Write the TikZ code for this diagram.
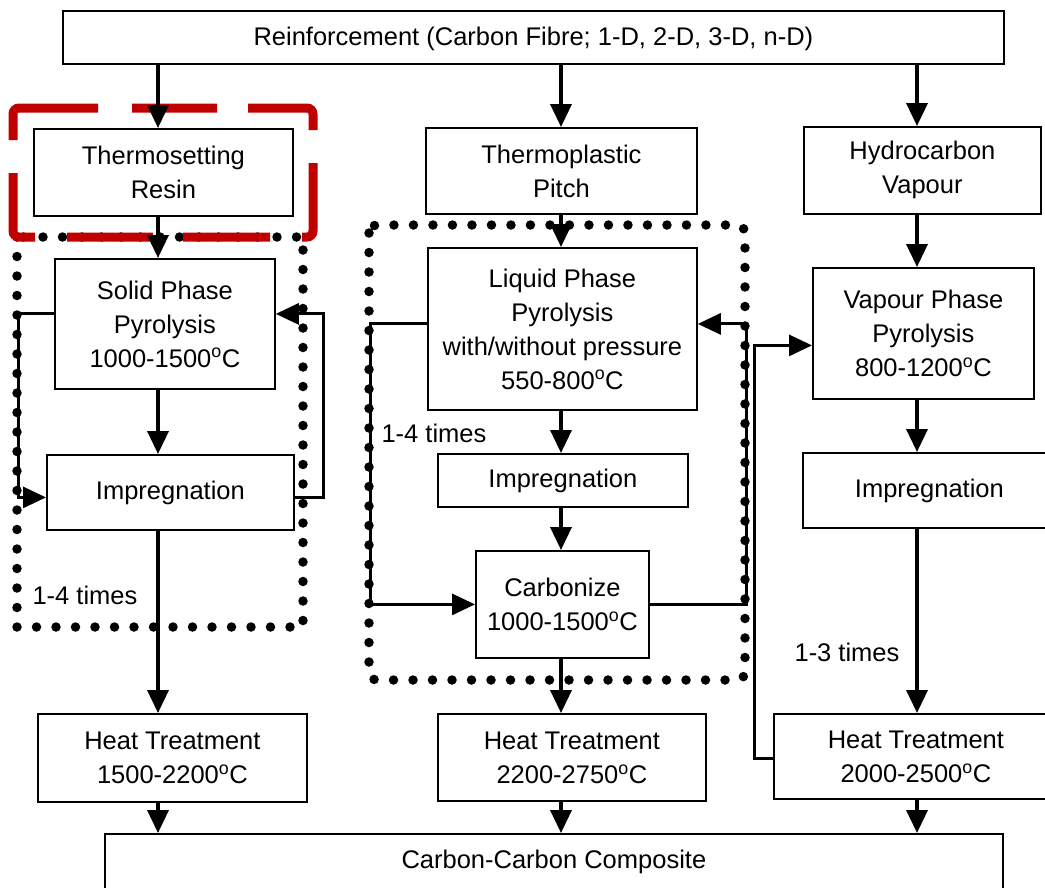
\documentclass[tikz,border=0pt]{standalone}
\usepackage{fontspec}
\setmainfont{Liberation Sans}
\usepackage{xcolor}
\usepackage{tikz}
\usetikzlibrary{arrows.meta,positioning,calc}
\definecolor{markred}{HTML}{C00000}
\newcommand{\dgC}{\textsuperscript{o}C}

\begin{document}
\begin{tikzpicture}[x=1pt,y=-1pt,font=\fontsize{25.5}{34}\selectfont,
  box/.style={draw,line width=1.8pt,align=center,inner sep=0pt,anchor=north west},
  flow/.style={-{Triangle[length=23pt,width=21pt]},line width=3.6pt},
  back/.style={-{Triangle[length=23pt,width=21pt]},line width=3pt},
  dots/.style={line width=9.5pt,line cap=round,dash pattern=on 0pt off 19.5pt},
  redmark/.style={markred,line width=9pt,rounded corners=6pt}]
  \useasboundingbox (0,0) rectangle (1045,887);
  % dotted loops and red mark
  \draw[dots] (17,237) rectangle (303,627);
  \draw[dots,rounded corners=8pt] (369,225) rectangle (745,680);
  \draw[redmark] (98,108) -- (13,108) -- (13,140)
    (13,173) -- (13,237) -- (35,237)
    (67,237) -- (153,237)
    (183,237) -- (270,237)
    (302,237) -- (313,237) -- (313,163)
    (313,130) -- (313,108) -- (248,108)
    (217,108) -- (132,108);
  % boxes
  \node[box,minimum width=941pt,minimum height=53pt,text depth=2pt] (reinf) at (62,10) {Reinforcement (Carbon Fibre; 1-D, 2-D, 3-D, n-D)};
  \node[box,minimum width=259pt,minimum height=87pt] (resin) at (33,128) {Thermosetting\\Resin};
  \node[box,minimum width=271pt,minimum height=86pt] (pitch) at (425,127) {Thermoplastic\\Pitch};
  \node[box,minimum width=237pt,minimum height=87pt] (hydro) at (803,126) {Hydrocarbon\\Vapour};
  \node[box,minimum width=220pt,minimum height=130pt] (solid) at (54,258) {Solid Phase\\Pyrolysis\\1000-1500\dgC};
  \node[box,minimum width=269pt,minimum height=162pt] (liquid) at (427,247) {Liquid Phase\\Pyrolysis\\with/without pressure\\550-800\dgC};
  \node[box,minimum width=221pt,minimum height=131pt] (vapour) at (812,267) {Vapour Phase\\Pyrolysis\\800-1200\dgC};
  \node[box,minimum width=247pt,minimum height=75pt] (impL) at (46,454) {Impregnation};
  \node[box,minimum width=250pt,minimum height=53pt] (impM) at (437,453) {Impregnation};
  \node[box,minimum width=253pt,minimum height=75pt] (impR) at (802,452) {Impregnation};
  \node[box,minimum width=173pt,minimum height=107pt] (carb) at (475,550) {Carbonize\\1000-1500\dgC};
  \node[box,minimum width=269pt,minimum height=88pt] (htL) at (37,713) {Heat Treatment\\1500-2200\dgC};
  \node[box,minimum width=268pt,minimum height=87pt] (htM) at (437,713) {Heat Treatment\\2200-2750\dgC};
  \node[box,minimum width=284pt,minimum height=85pt] (htR) at (773,713) {Heat Treatment\\2000-2500\dgC};
  \node[box,minimum width=898pt,minimum height=55pt] (ccc) at (104,833) {Carbon-Carbon Composite};
  \node (timesL) at (85,595) {1-4 times};
  \node (timesM) at (434,433) {1-4 times};
  \node (timesR) at (847,652) {1-3 times};
  % columns
  \coordinate (colL) at (158,0);
  \coordinate (colM) at (561,0);
  \coordinate (colR) at (917,0);
  \foreach \a/\b/\c in {reinf/resin/colL,resin/solid/colL,solid/impL/colL,impL/htL/colL,htL/ccc/colL,
    reinf/pitch/colM,pitch/liquid/colM,liquid/impM/colM,impM/carb/colM,carb/htM/colM,htM/ccc/colM,
    reinf/hydro/colR,hydro/vapour/colR,vapour/impR/colR,impR/htR/colR,htR/ccc/colR}
    \draw[flow] (\a.south -| \c) -- (\b.north -| \c);
  % repeat loops
  \draw[back] ([yshift=10pt]solid.west) -- ++(-36,0) |- ([yshift=-5pt]impL.west);
  \draw[back] ([yshift=-5pt]impL.east) -- ++(29,0) |- ([yshift=10pt]solid.east);
  \draw[back] ([yshift=5pt]liquid.west) -- ++(-57,0) |- (carb.west);
  \draw[back] (carb.east) -- ++(97,0) |- ([yshift=5pt]liquid.east);
  \draw[back] ([yshift=-2pt]htR.west) -- ++(-19,0) |- ([yshift=-12pt]vapour.west);
\end{tikzpicture}
\end{document}
